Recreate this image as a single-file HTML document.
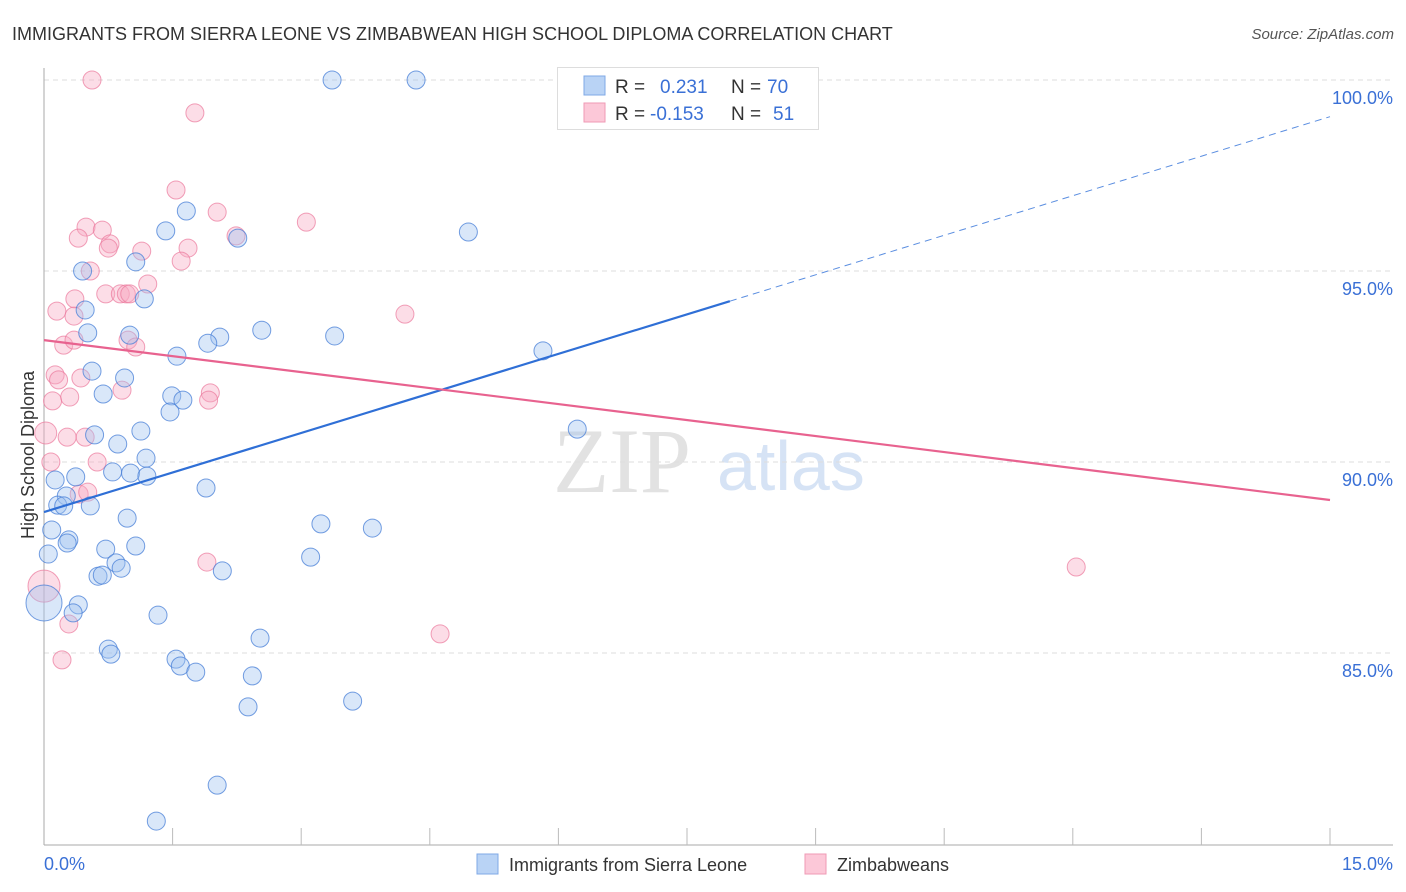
<!DOCTYPE html>
<html><head><meta charset="utf-8">
<style>
body{margin:0;background:#fff;font-family:"Liberation Sans",sans-serif;}
svg{display:block}
</style></head>
<body>
<svg id="chart" width="1406" height="892" viewBox="0 0 1406 892" xmlns="http://www.w3.org/2000/svg">
<text x="12" y="40" font-size="18" fill="#333">IMMIGRANTS FROM SIERRA LEONE VS ZIMBABWEAN HIGH SCHOOL DIPLOMA CORRELATION CHART</text>
<text x="1394" y="39" font-size="15" fill="#555" font-style="italic" text-anchor="end">Source: ZipAtlas.com</text>
<g>
<text x="553" y="492" font-size="92" font-family="Liberation Serif,serif" fill="#e2e2e2">ZIP</text>
<text x="717" y="490" font-size="70" fill="#d6e3f5">atlas</text>
</g>
<g id="grid"></g>
<g id="axes"></g>
<text transform="translate(34,455) rotate(-90)" font-size="18" fill="#333" text-anchor="middle">High School Diploma</text>
<g id="pts"></g>
<g id="trends"></g>
<g>
<rect x="557.5" y="67.5" width="261" height="62" fill="#fff" stroke="#ddd"/>
<rect x="584" y="76" width="21" height="19" fill="#b9d3f5" stroke="#7fa8e6"/>
<rect x="584" y="103" width="21" height="19" fill="#fcc8d8" stroke="#ef9ab5"/>
<text x="615" y="93" font-size="19" fill="#333">R = <tspan x="660" fill="#3a70d6">0.231</tspan><tspan x="731" fill="#333">N = </tspan><tspan x="767" fill="#3a70d6">70</tspan></text>
<text x="615" y="120" font-size="19" fill="#333">R = <tspan x="650" fill="#3a70d6">-0.153</tspan><tspan x="731" fill="#333">N = </tspan><tspan x="773" fill="#3a70d6">51</tspan></text>
</g>
<g>
<rect x="477" y="854" width="21" height="20" fill="#b9d3f5" stroke="#7fa8e6"/>
<text x="509" y="871" font-size="18" fill="#333">Immigrants from Sierra Leone</text>
<rect x="805" y="854" width="21" height="20" fill="#fcc8d8" stroke="#ef9ab5"/>
<text x="837" y="871" font-size="18" fill="#333">Zimbabweans</text>
</g>
</svg>
<script>
const NS="http://www.w3.org/2000/svg";
const yTicks=[100,95,90,85];
const yTickLabels=["100.0%","95.0%","90.0%","85.0%"];
const xTickCount=10;
const xLabels=["0.0%","15.0%"];
const blueX=[3.36,4.34,1.66,1.42,2.26,4.95,1.07,0.45,1.17,0.48,0.51,1.0,2.54,2.05,1.91,3.39,5.82,1.55,0.56,0.94,0.69,1.49,1.62,1.47,1.13,0.59,0.86,6.22,1.19,0.80,1.01,1.20,0.37,0.13,1.89,0.26,0.16,0.23,0.54,0.97,3.23,3.83,0.09,0.29,0.27,0.72,1.07,0.05,3.11,0.84,0.90,2.08,0.63,0.68,0.40,0.34,1.33,0.0,2.52,0.75,0.78,1.54,1.59,1.77,2.43,3.60,2.38,2.02,1.31];
const blueY=[100,100,96.57,96.05,95.86,96.02,95.24,95.0,94.27,93.98,93.38,93.32,93.45,93.27,93.11,93.30,92.91,92.77,92.38,92.20,91.78,91.73,91.62,91.31,90.81,90.71,90.47,90.86,90.10,89.74,89.71,89.63,89.61,89.53,89.32,89.11,88.87,88.85,88.85,88.53,88.38,88.27,88.22,87.96,87.88,87.72,87.80,87.59,87.51,87.36,87.22,87.15,87.01,87.04,86.26,86.05,85.99,86.31,85.39,85.10,84.97,84.84,84.66,84.50,84.40,83.74,83.59,81.54,80.60];
const blueSize=blueX.map((v,i)=>i===57?18:9);
const pinkX=[0.56,1.76,1.54,2.02,3.06,0.49,0.68,0.40,2.24,0.77,0.75,1.14,1.68,1.60,0.54,1.21,0.72,0.89,0.96,1.0,0.36,0.15,0.35,4.21,0.98,1.07,0.23,0.35,0.13,0.17,0.43,0.91,1.94,1.92,0.10,0.30,0.27,0.48,0.02,0.62,0.08,0.41,0.51,1.90,12.04,0.0,0.29,4.62,0.21];
const pinkY=[100,99.14,97.12,96.54,96.28,96.15,96.07,95.86,95.92,95.71,95.60,95.52,95.60,95.26,95.0,94.66,94.40,94.40,94.40,94.40,94.27,93.95,93.82,93.87,93.19,93.01,93.06,93.19,92.28,92.15,92.20,91.88,91.81,91.62,91.60,91.70,90.65,90.65,90.76,90.0,90.0,89.16,89.21,87.38,87.25,86.75,85.76,85.50,84.82];
const pinkSize=pinkX.map((v,i)=>i===45?16:(i===38?11:9));
const blueTrend=[88.69,0.69]; // intercept, slope
const pinkTrend=[93.19,-0.279];
const blueSolidEnd=8.0;

const X0=44,X1=1330,Y100=80,PX=38.2;
const sx=v=>X0+(X1-X0)*v/15;
const sy=v=>Y100+(100-v)*PX;
function mk(tag,attrs,parent){const e=document.createElementNS(NS,tag);for(const k in attrs)e.setAttribute(k,attrs[k]);parent.appendChild(e);return e;}
const grid=document.getElementById('grid'),axes=document.getElementById('axes'),pts=document.getElementById('pts'),tr=document.getElementById('trends');
yTicks.forEach((t,i)=>{
 const l=mk('line',{x1:X0,x2:1393,y1:sy(t),y2:sy(t),stroke:'#ddd','stroke-dasharray':'5,4'},grid);
 
 
 const tx=mk('text',{x:1393,y:sy(t)+24,'font-size':18,fill:'#3a70d6','text-anchor':'end'},axes);
 tx.textContent=yTickLabels[i];
 
 
});
const ya=mk('line',{x1:X0,x2:X0,y1:68,y2:845,stroke:'#aaa'},axes);


const xa=mk('line',{x1:X0,x2:1393,y1:845,y2:845,stroke:'#aaa'},axes);


for(let i=1;i<=xTickCount;i++){
 const x=sx(15*i/xTickCount);
 const t=mk('line',{x1:x,x2:x,y1:828,y2:845,stroke:'#bbb'},axes);
 
 
}
const xl0=mk('text',{x:44,y:870,'font-size':18,fill:'#3a70d6'},axes);xl0.textContent=xLabels[0];


const xl1=mk('text',{x:1393,y:870,'font-size':18,fill:'#3a70d6','text-anchor':'end'},axes);xl1.textContent=xLabels[1];



pinkX.forEach((v,i)=>{
 const c=mk('circle',{cx:sx(v),cy:sy(pinkY[i]),r:pinkSize[i],fill:'rgba(248,170,195,0.4)',stroke:'rgba(235,120,155,0.7)','stroke-width':1},pts);
 
 
});
blueX.forEach((v,i)=>{
 const c=mk('circle',{cx:sx(v),cy:sy(blueY[i]),r:blueSize[i],fill:'rgba(160,195,240,0.4)',stroke:'rgba(70,125,215,0.75)','stroke-width':1},pts);
 
 
});
const bf=x=>blueTrend[0]+blueTrend[1]*x, pf=x=>pinkTrend[0]+pinkTrend[1]*x;
const b1=mk('line',{x1:sx(0),y1:sy(bf(0)),x2:sx(blueSolidEnd),y2:sy(bf(blueSolidEnd)),stroke:'#2f6fd6','stroke-width':2.2},tr);


const b2=mk('line',{x1:sx(blueSolidEnd),y1:sy(bf(blueSolidEnd)),x2:sx(15),y2:sy(bf(15)),stroke:'#5b8ee0','stroke-width':1,'stroke-dasharray':'7,5'},tr);


const p1=mk('line',{x1:sx(0),y1:sy(pf(0)),x2:sx(15),y2:sy(pf(15)),stroke:'#e8628f','stroke-width':2.2},tr);


</script>
</body></html>
